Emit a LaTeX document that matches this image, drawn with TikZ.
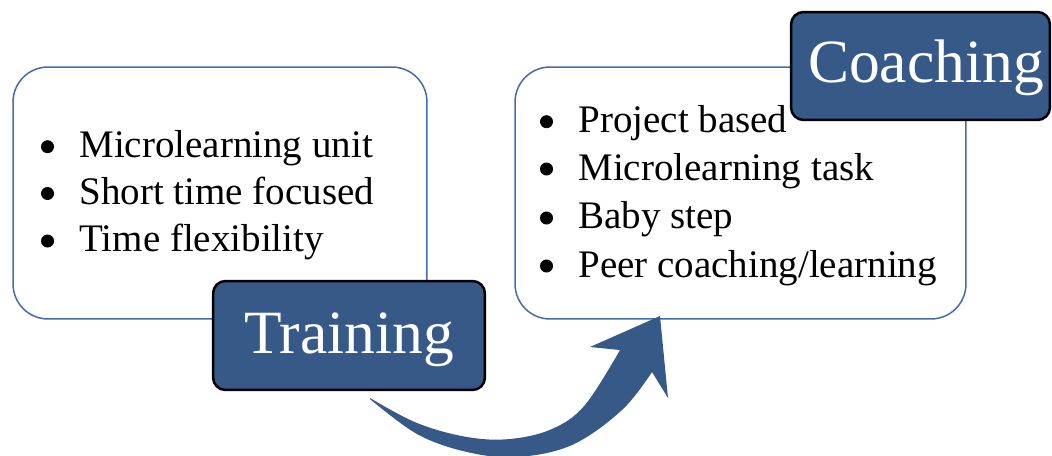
\documentclass[tikz,border=0pt]{standalone}
\usepackage{fontspec}
\setmainfont{Liberation Serif}
\definecolor{boxblue}{RGB}{68,108,166}
\definecolor{darkblue}{RGB}{54,89,136}
\tikzset{
  bigbox/.style={draw=boxblue, line width=0.03cm, fill=white, rounded corners=0.7cm, inner sep=0pt},
  labbox/.style={draw=black, line width=0.05cm, fill=darkblue, rounded corners=0.25cm, inner sep=0pt},
  labtext/.style={anchor=base, inner sep=0pt, text=white, font=\fontsize{35}{40}\selectfont},
  itemtext/.style={anchor=base west, inner sep=0pt, font=\fontsize{22.2}{26}\selectfont},
  bulletdot/.style={fill=black},
}
\begin{document}
\begin{tikzpicture}[x=0.02cm, y=-0.02cm]
\useasboundingbox (0,0) rectangle (1052,456);
% white boxes
\node[bigbox, minimum width=8.28cm, minimum height=5.04cm] (lbox) at (220,193) {};
\node[bigbox, minimum width=9.02cm, minimum height=5.04cm] (rbox) at (740.5,193) {};
% left list
\node[itemtext] (l1) at (79,157.7) {Microlearning unit};
\node[itemtext] (l2) at (79,204.5) {Short time focused};
\node[itemtext] (l3) at (79,252) {Time flexibility};
% right list
\node[itemtext] (r1) at (578,132.7) {Project based};
\node[itemtext] (r2) at (578,180) {Microlearning task};
\node[itemtext] (r3) at (578,229) {Baby step};
\node[itemtext] (r4) at (578,277) {Peer coaching/learning};
% bullets
\foreach \n in {l1,l2,l3,r1,r2,r3,r4}
  \fill[bulletdot] ([xshift=-0.63cm, yshift=0.22cm]\n.base west) circle (0.13cm);
% label boxes
\node[labbox, minimum width=5.44cm, minimum height=2.18cm] (tbox) at (349,335.5) {};
\node[labtext] (ttext) at (349,353) {Training};
\node[labbox, minimum width=5.18cm, minimum height=2.16cm] (cbox) at (920.5,66) {};
\node[labtext] (ctext) at (926,83) {Coaching};
% curved arrow
\coordinate (tail) at (370,398);
\fill[darkblue] (tail)
  plot[smooth, tension=0.6] coordinates {(370,398) (417,423) (467,437) (510,439) (552,429) (585,405) (620,350)}
  -- (590,347) -- (660,316) -- (668,398) --
  plot[smooth, tension=0.6] coordinates {(652,372) (622,410) (572,445) (517,457) (467,452) (417,434) (370,399)}
  -- cycle;
\end{tikzpicture}
\end{document}
